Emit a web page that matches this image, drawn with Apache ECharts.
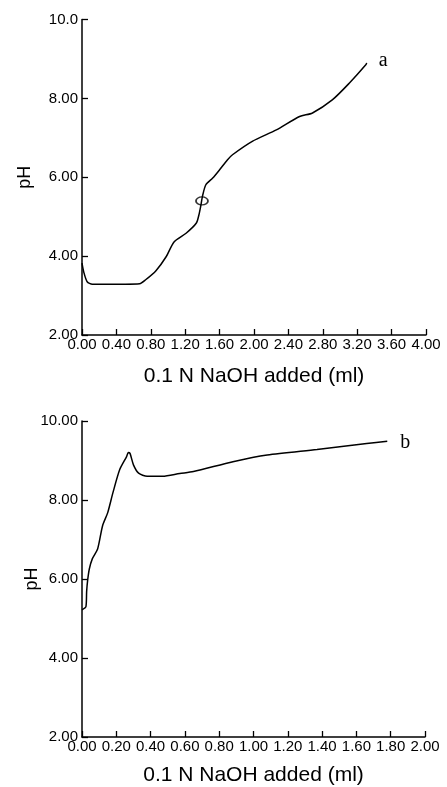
<!DOCTYPE html>
<html>
<head>
<meta charset="utf-8">
<script src="https://cdn.jsdelivr.net/npm/echarts@6/dist/echarts.min.js"></script>
<style>html,body{margin:0;padding:0;background:#fff;}#c{width:447px;height:787px;}</style>
</head>
<body>
<div id="c"></div>
<script>
// Curve a: 0.1 N NaOH added (ml) vs pH
const aNaOH = [0.00, 0.02, 0.06, 0.12, 0.30, 0.50, 0.67, 0.74, 0.86, 0.98, 1.07, 1.21, 1.33, 1.36, 1.38, 1.40, 1.44, 1.52, 1.60, 1.69, 1.75, 1.98, 2.26, 2.53, 2.68, 2.91, 3.11, 3.30, 3.31];
const aPH   = [3.82, 3.60, 3.35, 3.29, 3.29, 3.29, 3.30, 3.40, 3.63, 3.99, 4.36, 4.58, 4.84, 5.05, 5.26, 5.51, 5.81, 5.98, 6.19, 6.44, 6.57, 6.91, 7.20, 7.54, 7.63, 7.96, 8.39, 8.85, 8.90];
// marked point on curve a
const aMarkX = 1.395, aMarkY = 5.40;

// Curve b
const bNaOH = [0.00, 0.023, 0.027, 0.033, 0.043, 0.06, 0.091, 0.12, 0.15, 0.18, 0.22, 0.26, 0.27, 0.28, 0.30, 0.33, 0.38, 0.47, 0.57, 0.65, 0.88, 1.08, 1.37, 1.66, 1.78];
const bPH   = [5.22, 5.30, 5.68, 5.97, 6.26, 6.51, 6.76, 7.35, 7.68, 8.18, 8.77, 9.10, 9.20, 9.18, 8.89, 8.68, 8.60, 8.60, 8.67, 8.72, 8.97, 9.14, 9.28, 9.43, 9.49];

const yTicksA = ['10.0', '8.00', '6.00', '4.00', '2.00'];
const yTicksB = ['10.00', '8.00', '6.00', '4.00', '2.00'];

const FONT = 'Liberation Sans';
const xName = '0.1 N NaOH added (ml)';

function pairs(xs, ys) { return xs.map((x, i) => [x, ys[i]]); }
function yFmt(labels) {
  return function (v) {
    const m = { 10: labels[0], 8: labels[1], 6: labels[2], 4: labels[3], 2: labels[4] };
    return m[Math.round(v)] || '';
  };
}

const axisLine = { show: true, lineStyle: { color: '#000', width: 1.5 } };
const axisTick = { show: true, inside: true, length: 6, lineStyle: { color: '#000', width: 1.3 } };

function xAxis(idx, max, interval, gap) {
  return {
    type: 'value', gridIndex: idx, min: 0, max: max, interval: interval,
    axisLine: axisLine, axisTick: axisTick, splitLine: { show: false },
    axisLabel: { color: '#000', fontFamily: FONT, fontSize: 15, margin: 2,
      formatter: v => v.toFixed(2), showMinLabel: true, showMaxLabel: true, hideOverlap: false },
    name: xName, nameLocation: 'middle', nameGap: gap, nameMoveOverlap: false,
    nameTextStyle: { color: '#000', fontFamily: FONT, fontSize: 21 }
  };
}
function yAxis(idx, labels, gap) {
  return {
    type: 'value', gridIndex: idx, min: 2, max: 10, interval: 2,
    axisLine: axisLine, axisTick: axisTick, splitLine: { show: false },
    axisLabel: { color: '#000', fontFamily: FONT, fontSize: 15, margin: 4, formatter: yFmt(labels) },
    name: 'pH', nameLocation: 'middle', nameGap: gap, nameRotate: 90, nameMoveOverlap: false,
    nameTextStyle: { color: '#000', fontFamily: FONT, fontSize: 18 }
  };
}

const chart = echarts.init(document.getElementById('c'), null, { renderer: 'canvas' });
chart.setOption({
  animation: false,
  backgroundColor: '#fff',
  grid: [
    { left: 82, top: 19.5, width: 344, height: 315.5 },
    { left: 82, top: 421, width: 343, height: 319 }
  ],
  xAxis: [xAxis(0, 4, 0.4, 31), xAxis(1, 2, 0.2, 28)],
  yAxis: [yAxis(0, yTicksA, 48), yAxis(1, yTicksB, 41)],
  series: [
    {
      type: 'line', xAxisIndex: 0, yAxisIndex: 0, data: pairs(aNaOH, aPH),
      showSymbol: false, smooth: 0.25, lineStyle: { color: '#000', width: 1.5 },
      endLabel: { show: true, formatter: 'a', fontFamily: 'Liberation Serif', fontSize: 20, color: '#000', distance: 8, offset: [4, -2] }
    },
    {
      type: 'scatter', xAxisIndex: 0, yAxisIndex: 0, data: [[aMarkX, aMarkY]],
      symbol: 'circle', symbolSize: [12, 8],
      itemStyle: { color: 'rgba(0,0,0,0)', borderColor: '#000', borderWidth: 1.5 }
    },
    {
      type: 'line', xAxisIndex: 1, yAxisIndex: 1, data: pairs(bNaOH, bPH),
      showSymbol: false, smooth: 0.25, lineStyle: { color: '#000', width: 1.5 },
      endLabel: { show: true, formatter: 'b', fontFamily: 'Liberation Serif', fontSize: 20, color: '#000', distance: 12, offset: [1, 2] }
    }
  ]
});
</script>
</body>
</html>
